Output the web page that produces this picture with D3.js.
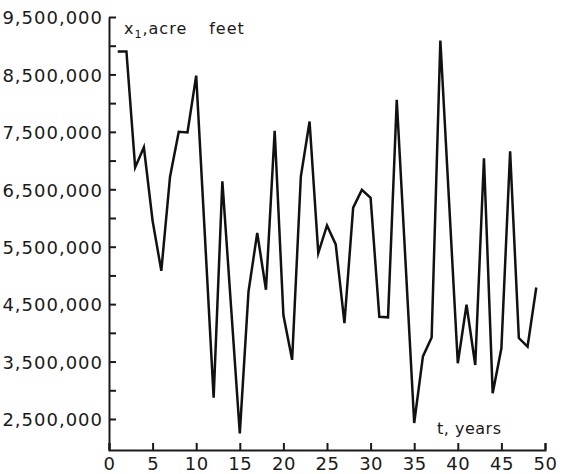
<!DOCTYPE html>
<html>
<head>
<meta charset="utf-8">
<script src="https://cdn.jsdelivr.net/npm/d3@7"></script>
<style>
  html, body { margin: 0; padding: 0; background: #fff; }
  svg { display: block; }
  text { font-family: "DejaVu Sans", sans-serif; fill: #1a1a1a; }
</style>
</head>
<body>
<svg id="chart" width="563" height="474"></svg>
<script>
// Annual flow record, x1 in acre feet, for years t = 1..49
const years = [1, 2, 3, 4, 5, 6, 7, 8, 9, 10,
  11, 12, 13, 14, 15, 16, 17, 18, 19, 20,
  21, 22, 23, 24, 25, 26, 27, 28, 29, 30,
  31, 32, 33, 34, 35, 36, 37, 38, 39, 40,
  41, 42, 43, 44, 45, 46, 47, 48, 49];
const flows = [8900000, 8900000, 6880000, 7230000, 5950000, 5080000, 6720000, 7500000, 7490000, 8480000,
  5680000, 2870000, 6640000, 4450000, 2250000, 4720000, 5740000, 4750000, 7520000, 4310000,
  3530000, 6720000, 7680000, 5390000, 5870000, 5540000, 4170000, 6180000, 6490000, 6350000,
  4280000, 4270000, 8060000, 5250000, 2430000, 3590000, 3920000, 9090000, 6280000, 3470000,
  4490000, 3440000, 7040000, 2950000, 3730000, 7160000, 3910000, 3760000, 4790000];

// Axis ticks
const xTickValues = [0, 5, 10, 15, 20, 25, 30, 35, 40, 45, 50];
const yLabelValues = [2500000, 3500000, 4500000, 5500000, 6500000, 7500000, 8500000, 9500000];
const yMinorValues = [3000000, 4000000, 5000000, 6000000, 7000000, 8000000, 9000000];

const svg = d3.select("#chart");

const x = d3.scaleLinear().domain([0, 50]).range([109, 545]);
const y = d3.scaleLinear().domain([1960000, 9500000]).range([450, 17]);

// y axis: labelled ticks every million, unlabelled ticks in between, all pointing inward
const yAxis = svg.append("g")
  .attr("transform", `translate(${x(0)},0)`)
  .call(d3.axisLeft(y)
    .tickValues(yLabelValues)
    .tickSizeInner(-7)
    .tickSizeOuter(0)
    .tickPadding(6)
    .tickFormat(d3.format(",")));
yAxis.selectAll("text")
  .style("font-size", "18px")
  .style("letter-spacing", "1px")
  .attr("dy", "0.38em");

const yMinor = svg.append("g")
  .attr("transform", `translate(${x(0)},0)`)
  .call(d3.axisLeft(y)
    .tickValues(yMinorValues)
    .tickSizeInner(-7)
    .tickSizeOuter(0)
    .tickFormat(""));
yMinor.select(".domain").remove();

// x axis along the bottom, ticks pointing up
const xAxis = svg.append("g")
  .attr("transform", "translate(0,450)")
  .call(d3.axisBottom(x)
    .tickValues(xTickValues)
    .tickSizeInner(-7)
    .tickSizeOuter(-7)
    .tickPadding(7)
    .tickFormat(d3.format("d")));
xAxis.selectAll("text")
  .style("font-size", "18px")
  .style("letter-spacing", "0.5px");

svg.selectAll(".domain, .tick line")
  .attr("stroke", "#1a1a1a")
  .attr("stroke-width", 2);
svg.selectAll(".tick text").attr("fill", "#1a1a1a");

// Flow series
const line = d3.line()
  .x((d, i) => x(years[i]))
  .y(d => y(d));

svg.append("path")
  .datum(flows)
  .attr("d", line)
  .attr("fill", "none")
  .attr("stroke", "#111")
  .attr("stroke-width", 2.5)
  .attr("stroke-linejoin", "miter")
  .attr("stroke-miterlimit", 6);

// Axis titles
const yTitle = svg.append("text")
  .attr("x", 124)
  .attr("y", 34)
  .style("font-size", "16px")
  .style("letter-spacing", "1px");
yTitle.append("tspan").text("x");
yTitle.append("tspan").attr("dy", 4).style("font-size", "11px").text("1");
yTitle.append("tspan").attr("dy", -4).text(",acre");
yTitle.append("tspan").attr("dx", 22).text("feet");

svg.append("text")
  .attr("x", 437)
  .attr("y", 434)
  .style("font-size", "16px")
  .style("letter-spacing", "0.5px")
  .text("t, years");
</script>
</body>
</html>
